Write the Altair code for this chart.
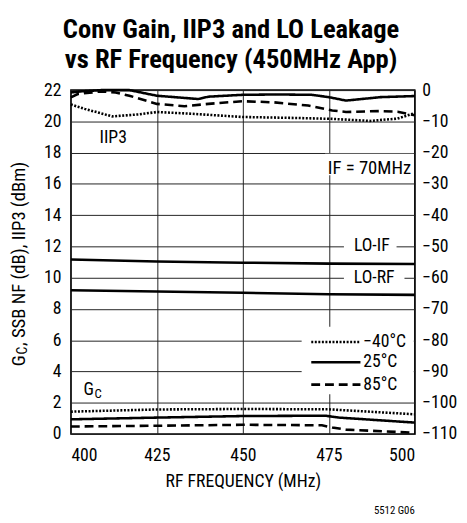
import altair as alt
import pandas as pd

FONT = "Liberation Sans Narrow, Arial Narrow, Roboto Condensed, Liberation Sans, sans-serif"

temps = ["\u221240\u00b0C", "25\u00b0C", "85\u00b0C"]

# IIP3 (dBm), left axis
iip3_m40_f = [400, 404, 412, 420, 425, 435, 450, 465, 476, 487, 495, 500]
iip3_m40_v = [21.08, 20.8, 20.32, 20.45, 20.6, 20.49, 20.28, 20.22, 20.16, 20.03, 20.18, 20.53]
iip3_25_f = [400, 403, 409, 417, 425, 433, 437, 440, 450, 460, 470, 475, 480, 490, 500]
iip3_25_v = [21.85, 21.92, 22.0, 22.0, 21.64, 21.5, 21.43, 21.58, 21.7, 21.72, 21.7, 21.55, 21.33, 21.55, 21.62]
iip3_85_f = [400, 402, 409, 413, 417, 425, 433, 440, 450, 459, 469, 476, 480, 490, 495, 500]
iip3_85_v = [21.54, 21.75, 21.92, 21.85, 21.64, 21.12, 20.97, 21.12, 21.29, 21.22, 21.01, 20.7, 20.6, 20.66, 20.62, 20.39]

# Conversion gain (dB), left axis
gc_m40_f = [400, 425, 450, 475, 500]
gc_m40_v = [1.43, 1.57, 1.6, 1.58, 1.26]
gc_25_f = [400, 425, 450, 474, 478, 500]
gc_25_v = [0.94, 1.05, 1.15, 1.17, 1.05, 0.73]
gc_85_f = [400, 425, 450, 473, 476, 480, 500]
gc_85_v = [0.48, 0.53, 0.59, 0.56, 0.42, 0.28, 0.08]

# LO leakage (dBm), right axis
lo_f = [400, 425, 450, 475, 500]
lo_if_v = [-54.15, -54.8, -55.2, -55.5, -55.6]
lo_rf_v = [-64.0, -64.4, -64.8, -65.3, -65.5]

left_ticks = list(range(0, 23, 2))
x_ticks = [400, 425, 450, 475, 500]

rows = []
for curve, temp, fs, vs in [
    ("IIP3", temps[0], iip3_m40_f, iip3_m40_v),
    ("IIP3", temps[1], iip3_25_f, iip3_25_v),
    ("IIP3", temps[2], iip3_85_f, iip3_85_v),
    ("GC", temps[0], gc_m40_f, gc_m40_v),
    ("GC", temps[1], gc_25_f, gc_25_v),
    ("GC", temps[2], gc_85_f, gc_85_v),
]:
    for f, v in zip(fs, vs):
        rows.append({"curve": curve + temp, "temp": temp, "freq": f, "value": v})
df = pd.DataFrame(rows)

lo_rows = []
for name, vs in [("LO-IF", lo_if_v), ("LO-RF", lo_rf_v)]:
    for f, v in zip(lo_f, vs):
        lo_rows.append({"curve": name, "freq": f, "dbm": v})
lo_df = pd.DataFrame(lo_rows)

# right axis (dBm) maps linearly onto the left axis: 0..22 <-> -110..0
TO_LEFT = "(datum.dbm + 110) / 5"

dash = alt.Scale(domain=temps, range=[[2, 1.6], [1, 0], [9, 5]])
xs = alt.Scale(domain=[400, 500], nice=False)
ys = alt.Scale(domain=[0, 22], nice=False)

x_axis = alt.Axis(values=x_ticks, grid=True, gridColor="#222", gridWidth=1, ticks=False,
                  domain=False, labelFont=FONT, labelFontSize=18, labelColor="black",
                  labelPadding=13, title="RF FREQUENCY (MHz)", titleFont=FONT,
                  titleFontSize=18, titleFontWeight="normal", titleColor="black", titlePadding=8,
                  orient="bottom")
y_axis = alt.Axis(values=left_ticks, grid=True, gridColor="#222", gridWidth=1, ticks=False,
                  domain=False, labelFont=FONT, labelFontSize=18, labelColor="black",
                  labelPadding=10, title=None, orient="left")
y2_axis = alt.Axis(values=left_ticks, grid=False, ticks=False, domain=False, orient="right",
                   labelExpr="format(datum.value * 5 - 110, 'd')",
                   labelFont=FONT, labelFontSize=18, labelColor="black", labelAlign="left",
                   labelPadding=7, title=None)

Xn = alt.X("freq:Q", scale=xs, axis=None)
Yn = alt.Y("value:Q", scale=ys, axis=None)

# white boxes behind annotations (left units)
box_df = pd.DataFrame([
    {"freq": 473.9, "freq2": 499.7, "value": 16.55, "value2": 17.93},
    {"freq": 467.1, "freq2": 499.7, "value": 2.55, "value2": 6.86},
])
boxes = alt.Chart(box_df).mark_rect(fill="white").encode(
    x=Xn, x2="freq2", y=Yn, y2="value2")

lo_box_df = pd.DataFrame([
    {"freq": 479.4, "freq2": 494.7, "dbm": -53.0, "dbm2": -47.0},
    {"freq": 479.4, "freq2": 497.0, "dbm": -62.8, "dbm2": -57.0},
])
lo_boxes = alt.Chart(lo_box_df).transform_calculate(
    value=TO_LEFT, value2="(datum.dbm2 + 110) / 5").mark_rect(fill="white").encode(
    x=Xn, x2="freq2", y=Yn, y2="value2")

curves = alt.Chart(df).mark_line(color="black", strokeWidth=2.6, strokeCap="butt").encode(
    x=alt.X("freq:Q", scale=xs, axis=x_axis), y=alt.Y("value:Q", scale=ys, axis=y_axis),
    strokeDash=alt.StrokeDash("temp:N", scale=dash, legend=None),
    detail="curve:N", order="freq:Q")

lo_lines = alt.Chart(lo_df).transform_calculate(value=TO_LEFT).mark_line(
    color="black", strokeWidth=2.6).encode(
    x=Xn, y=alt.Y("value:Q", scale=ys, axis=y2_axis), detail="curve:N", order="freq:Q")

leg_y = [5.89, 4.59, 3.16]
leg_df = pd.DataFrame({"temp": temps, "freq": [469.9] * 3, "freq2": [484.2] * 3,
                       "value": leg_y, "tx": [485.0] * 3})
leg_lines = alt.Chart(leg_df).mark_rule(color="black", strokeWidth=2.6, strokeCap="butt").encode(
    x=Xn, x2="freq2", y=Yn,
    strokeDash=alt.StrokeDash("temp:N", scale=dash, legend=None))
leg_text = alt.Chart(leg_df).mark_text(font=FONT, fontSize=18, align="left",
                                       baseline="middle", color="black").encode(
    x=alt.X("tx:Q", scale=xs, axis=None), y=Yn, text="temp:N")

iip3_text = alt.Chart(pd.DataFrame([{"label": "IIP3", "freq": 412.3, "value": 18.93}])).mark_text(
    font=FONT, fontSize=18, align="center", baseline="middle", color="black").encode(
    x=Xn, y=Yn, text="label:N")
if_text = alt.Chart(pd.DataFrame([{"label": "IF = 70MHz", "freq": 474.7, "value": 16.62}])).mark_text(
    font=FONT, fontSize=19, align="left", baseline="alphabetic", color="black").encode(
    x=Xn, y=Yn, text="label:N")
g_text = alt.Chart(pd.DataFrame([{"label": "G", "freq": 403.7, "value": 2.52}])).mark_text(
    font=FONT, fontSize=18, align="left", baseline="alphabetic", color="black").encode(
    x=Xn, y=Yn, text="label:N")
c_text = alt.Chart(pd.DataFrame([{"label": "C", "freq": 406.9, "value": 2.3}])).mark_text(
    font=FONT, fontSize=13, align="left", baseline="alphabetic", color="black").encode(
    x=Xn, y=Yn, text="label:N")
lo_text = alt.Chart(pd.DataFrame([
    {"label": "LO-IF", "freq": 487.5, "dbm": -50},
    {"label": "LO-RF", "freq": 488.2, "dbm": -60},
])).transform_calculate(value=TO_LEFT).mark_text(
    font=FONT, fontSize=18, align="center", baseline="middle", color="black").encode(
    x=Xn, y=Yn, text="label:N")

# left axis title with subscript
t_g = alt.Chart(pd.DataFrame([{"label": "G"}])).mark_text(
    font=FONT, fontSize=19, angle=270, align="left", baseline="middle", color="black").encode(
    x=alt.value(-53), y=alt.value(281), text="label:N")
t_c = alt.Chart(pd.DataFrame([{"label": "C"}])).mark_text(
    font=FONT, fontSize=14, angle=270, align="left", baseline="middle", color="black").encode(
    x=alt.value(-49), y=alt.value(269), text="label:N")
t_rest = alt.Chart(pd.DataFrame([{"label": ", SSB NF (dB), IIP3 (dBm)"}])).mark_text(
    font=FONT, fontSize=19, angle=270, align="left", baseline="middle", color="black").encode(
    x=alt.value(-53), y=alt.value(260.5), text="label:N")
footer = alt.Chart(pd.DataFrame([{"label": "5512 G06"}])).mark_text(
    font=FONT, fontSize=11, align="right", baseline="middle", color="black").encode(
    x=alt.value(350), y=alt.value(428.5), text="label:N")

chart = alt.layer(
    boxes, lo_boxes, curves, lo_lines, leg_lines, leg_text, iip3_text, if_text,
    g_text, c_text, lo_text, t_g, t_c, t_rest, footer,
).resolve_axis(x="independent", y="independent").properties(
    width=350, height=350,
    autosize=alt.AutoSizeParams(type="none"),
    padding={"left": 64, "top": 79, "right": 45, "bottom": 86},
    background="white",
    title=alt.Title(["Conv Gain, IIP3 and LO Leakage", "vs RF Frequency (450MHz App)"],
                    font=FONT, fontSize=27, fontWeight="bold", lineHeight=30,
                    anchor="middle", dx=-12, offset=8, color="black"),
).configure_view(stroke="black", strokeWidth=1.5)

chart.save("out.html", embed_options={"renderer": "svg", "actions": False})
